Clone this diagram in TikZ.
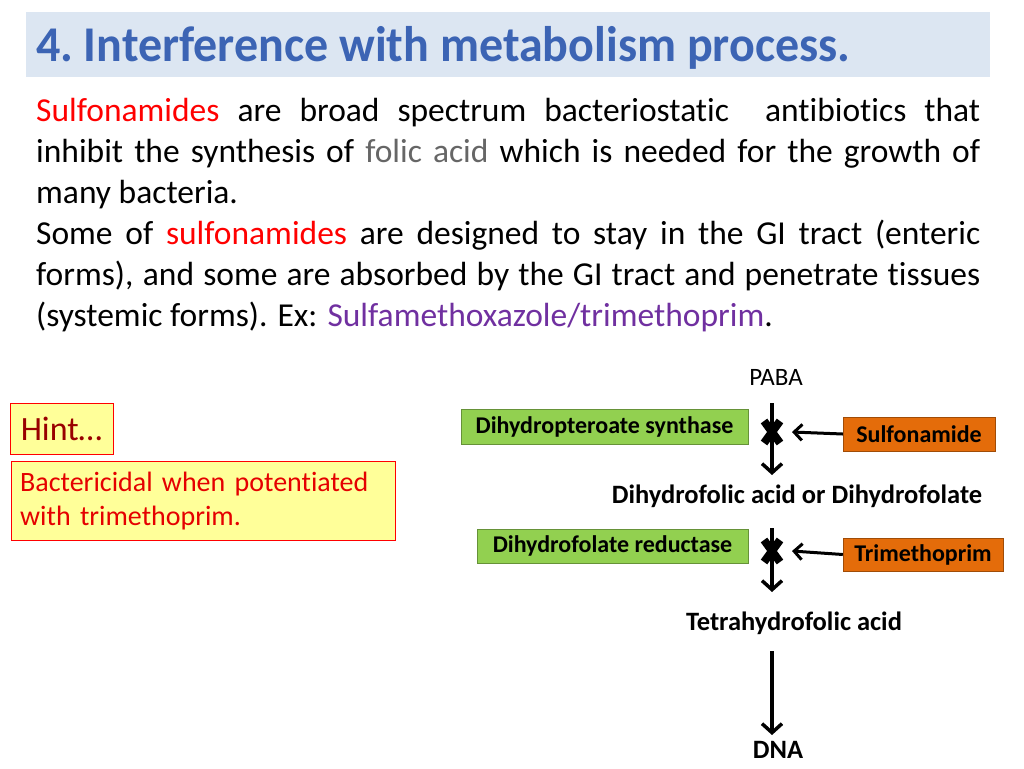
\documentclass[tikz,border=0pt]{standalone}
\usepackage{fontspec}
\setmainfont{Carlito}[Ligatures=NoCommon]
\usetikzlibrary{arrows.meta}
\definecolor{titlebg}{RGB}{220,230,242}
\definecolor{titleblue}{RGB}{60,100,180}
\definecolor{gbox}{RGB}{146,208,80}
\definecolor{obox}{RGB}{228,108,10}
\definecolor{hintbg}{RGB}{255,255,153}
\definecolor{purp}{RGB}{112,48,160}
\tikzset{
  gr/.style={draw=gbox!70!black,fill=gbox,font=\bfseries\fontsize{24}{28}\selectfont,inner sep=0pt},
  or/.style={draw=obox!70!black,fill=obox,font=\bfseries\fontsize{24}{28}\selectfont,inner sep=0pt},
  chem/.style={font=\bfseries\fontsize{26.5}{30}\selectfont},
  arr/.style={line width=3.5pt,-{Straight Barb[length=9pt,width=20pt]}},
  harr/.style={line width=3pt,-{Straight Barb[length=8pt,width=16pt]}},
  xmark/.style={line width=8pt},
}
\begin{document}
\begin{tikzpicture}[x=1pt,y=-1pt]
\useasboundingbox (0,0) rectangle (1024,768);
\fill[titlebg] (26,12) rectangle (990,77);
\node[anchor=base west,text=titleblue,font=\bfseries\fontsize{50}{54}\selectfont,inner sep=0pt,xscale=0.96,transform shape] (title) at (36,61) {4.\hspace{-4pt} Interference with metabolism process.};
\node[anchor=north west,inner sep=0pt,text width=944pt,align=justify,font=\fontsize{33.5}{41}\selectfont] (body) at (36,98)
{\textcolor{red}{Sulfonamides} are broad spectrum bacteriostatic\ \ antibiotics that\linebreak inhibit the synthesis of \textcolor{black!60}{folic acid} which is needed for the growth of\linebreak many bacteria.\\
Some of \textcolor{red}{sulfonamides} are designed to stay in the GI tract (enteric\linebreak forms), and some are absorbed by the GI tract and penetrate tissues\linebreak (systemic forms). Ex: \textcolor{purp}{Sulfamethoxazole/trimethoprim}.};
\node[font=\fontsize{25}{28}\selectfont] (paba) at (776,377) {PABA};
\node[gr,minimum width=287pt,minimum height=35pt] (g1) at (604.5,426.5) {Dihydropteroate synthase};
\node[or,minimum width=152pt,minimum height=34pt] (o1) at (919,434) {Sulfonamide};
\node[chem] (dhf) at (797,496) {Dihydrofolic acid or Dihydrofolate};
\node[gr,minimum width=271pt,minimum height=34pt] (g2) at (612.5,546) {Dihydrofolate reductase};
\node[or,minimum width=160pt,minimum height=33pt] (o2) at (923,554.5) {Trimethoprim};
\node[chem] (thf) at (794,623) {Tetrahydrofolic acid};
\node[chem] (dna) at (778,750) {DNA};
\coordinate (x1) at (772,432);
\coordinate (x2) at (772,551);
\draw[arr] (772,403) -- (772,475);
\draw[arr] (772,528) -- (772,592);
\draw[arr] (772,651) -- (772,735);
\foreach \p in {x1,x2}{
 \draw[xmark] ([shift={(-8,-11)}]\p) -- ([shift={(8,11)}]\p);
 \draw[xmark] ([shift={(-8,11)}]\p) -- ([shift={(8,-11)}]\p);
}
\draw[harr] (o1.west) -- (792,432);
\draw[harr] (o2.west) -- (792,551);
\node[draw=red,fill=hintbg,minimum width=103pt,minimum height=51pt,inner sep=0pt,text=red!60!black,font=\fontsize{34}{38}\selectfont] (hint) at (61.5,428.5) {Hint…};
\node[draw=red,fill=hintbg,anchor=north west,minimum width=384pt,minimum height=79pt,text width=372pt,inner sep=0pt,font=\fontsize{28}{34}\selectfont,text=red!90!black,align=left] (note) at (11,461) {\hspace*{3pt}Bactericidal when potentiated\\\hspace*{3pt}with trimethoprim.};
\end{tikzpicture}
\end{document}
